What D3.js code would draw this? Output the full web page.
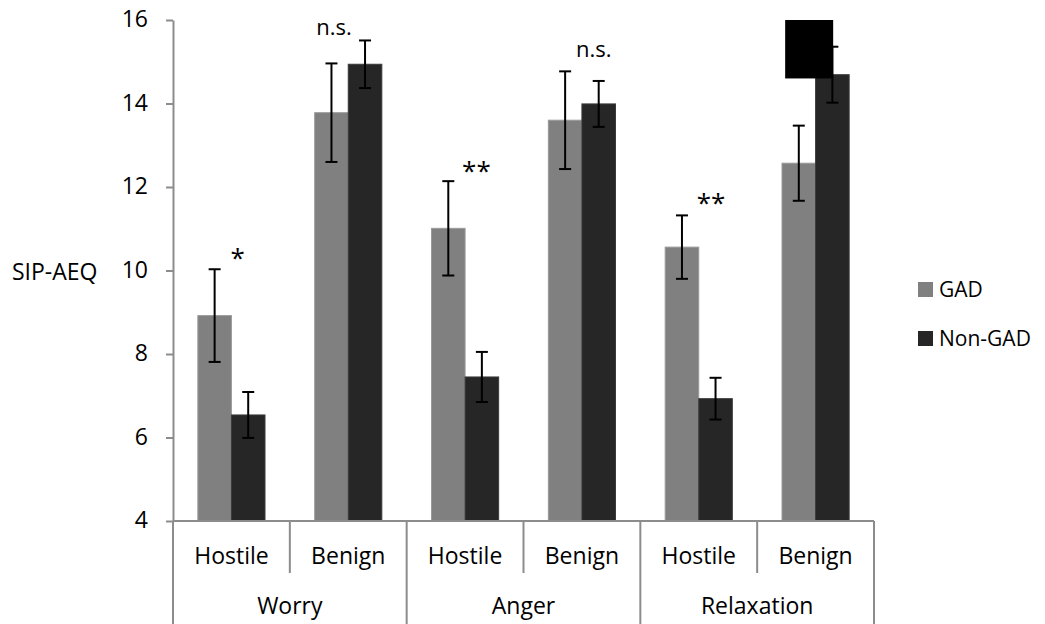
<!DOCTYPE html>
<html>
<head>
<meta charset="utf-8">
<script src="https://cdn.jsdelivr.net/npm/d3@7"></script>
<style>
    body { margin: 0; background: #fff; }
    text { font-family: 'Open Sans', sans-serif; fill: #000; }
</style>
</head>
<body>
<svg id="chart"></svg>
<script>
const groups = ['Worry', 'Anger', 'Relaxation']
const conditions = ['Hostile', 'Benign']
const series = ['GAD', 'Non-GAD']

// one value per group x condition, in order
const gadMeans = [8.92, 13.78, 11.01, 13.6, 10.56, 12.57]
const gadErr = [1.11, 1.18, 1.13, 1.17, 0.76, 0.9]
const nonGadMeans = [6.54, 14.94, 7.45, 13.99, 6.93, 14.69]
const nonGadErr = [0.55, 0.57, 0.6, 0.55, 0.5, 0.67]

const yTicks = [4, 6, 8, 10, 12, 14, 16]

// significance marks: cell index, label, level (in SIP-AEQ units)
const marks = [
    { cell: 0, label: '*', level: 10.09 },
    { cell: 1, label: 'n.s.', level: 15.64 },
    { cell: 2, label: '**', level: 12.16 },
    { cell: 3, label: 'n.s.', level: 15.12 },
    { cell: 4, label: '**', level: 11.39 }
]

const width = 1045
const height = 624
const plotLeft = 173, plotRight = 874, plotTop = 20, plotBottom = 521
const colors = { 'GAD': '#808080', 'Non-GAD': '#262626' }
const axisColor = '#8c8c8c'
const fontSize = 23

const cells = []
groups.forEach(g => conditions.forEach(c => cells.push(g + '|' + c)))

const rows = cells.map((id, i) => ({
    id,
    values: [
        { s: 'GAD', v: gadMeans[i], e: gadErr[i] },
        { s: 'Non-GAD', v: nonGadMeans[i], e: nonGadErr[i] }
    ]
}))

const svg = d3.select('#chart').attr('width', width).attr('height', height)

const x = d3.scaleBand().domain(cells).range([plotLeft, plotRight])
const xs = d3.scaleBand().domain(series).range([0, x.bandwidth()]).paddingOuter(0.74)
const y = d3.scaleLinear().domain([4, 16]).range([plotBottom, plotTop])

// y axis
const yAxis = svg.append('g')
    .attr('transform', `translate(${plotLeft},0)`)
    .call(d3.axisLeft(y).tickValues(yTicks).tickSize(7).tickSizeOuter(0).tickPadding(18))
yAxis.select('.domain').attr('stroke', axisColor).attr('stroke-width', 2)
yAxis.selectAll('.tick line').attr('stroke', axisColor).attr('stroke-width', 2)
yAxis.selectAll('.tick text')
    .attr('font-size', fontSize)
    .attr('font-family', "'Open Sans', sans-serif")
    .attr('fill', '#000')
    .attr('dy', '0.3em')

// bars
const cell = svg.append('g').selectAll('g')
    .data(rows)
    .enter().append('g')
    .attr('transform', d => `translate(${x(d.id)},0)`)

cell.selectAll('rect')
    .data(d => d.values)
    .enter().append('rect')
    .attr('x', d => xs(d.s))
    .attr('width', xs.bandwidth())
    .attr('y', d => y(d.v))
    .attr('height', d => y(4) - y(d.v))
    .attr('fill', d => colors[d.s])
    .attr('stroke', d => d.s === 'GAD' ? '#9a9a9a' : '#3a3a3a')
    .attr('stroke-width', 1)

// error bars
const err = cell.selectAll('g.err')
    .data(d => d.values)
    .enter().append('g')
    .attr('class', 'err')
    .attr('transform', d => `translate(${xs(d.s) + xs.bandwidth() / 2},0)`)

err.append('line')
    .attr('y1', d => y(d.v + d.e))
    .attr('y2', d => y(d.v - d.e))
    .attr('stroke', '#000').attr('stroke-width', 2)
err.selectAll('line.cap')
    .data(d => [d.v + d.e, d.v - d.e])
    .enter().append('line')
    .attr('class', 'cap')
    .attr('x1', -6).attr('x2', 6)
    .attr('y1', d => y(d)).attr('y2', d => y(d))
    .attr('stroke', '#000').attr('stroke-width', 2)

// x axis line and category boxes
svg.append('line')
    .attr('x1', plotLeft).attr('x2', plotRight)
    .attr('y1', plotBottom).attr('y2', plotBottom)
    .attr('stroke', axisColor).attr('stroke-width', 2)

const subDividers = cells.filter((d, i) => i % 2 === 0)
svg.append('g').selectAll('line')
    .data(subDividers)
    .enter().append('line')
    .attr('x1', d => x(d) + x.bandwidth()).attr('x2', d => x(d) + x.bandwidth())
    .attr('y1', plotBottom).attr('y2', 573)
    .attr('stroke', axisColor).attr('stroke-width', 2)

const groupEdges = [0, 2, 4, 6]
svg.append('g').selectAll('line')
    .data(groupEdges)
    .enter().append('line')
    .attr('x1', d => plotLeft + d * x.step()).attr('x2', d => plotLeft + d * x.step())
    .attr('y1', plotBottom).attr('y2', height)
    .attr('stroke', axisColor).attr('stroke-width', 2)

svg.append('g').selectAll('text')
    .data(cells)
    .enter().append('text')
    .attr('x', d => x(d) + x.bandwidth() / 2)
    .attr('y', 564)
    .attr('text-anchor', 'middle')
    .attr('font-size', fontSize)
    .text(d => d.split('|')[1])

svg.append('g').selectAll('text')
    .data(groups)
    .enter().append('text')
    .attr('x', (d, i) => plotLeft + (i * 2 + 1) * x.step())
    .attr('y', 614)
    .attr('text-anchor', 'middle')
    .attr('font-size', fontSize)
    .text(d => d)

// significance marks
const markDx = [-1, -32, -3, -6, -2]
svg.append('g').selectAll('text')
    .data(marks)
    .enter().append('text')
    .attr('x', (d, i) => x(cells[d.cell]) + xs('Non-GAD') + markDx[i])
    .attr('y', d => y(d.level))
    .attr('font-size', d => d.label.startsWith('*') ? 26 : 22)
    .text(d => d.label)

// black box over the last cell's mark
svg.append('rect')
    .attr('x', x(cells[5]) + 28)
    .attr('y', y(16))
    .attr('width', 48)
    .attr('height', y(14.6) - y(16))
    .attr('fill', '#000')

// y label
svg.append('text')
    .attr('x', 12)
    .attr('y', 280)
    .attr('font-size', fontSize)
    .text('SIP-AEQ')

// legend
const legend = svg.append('g').selectAll('g')
    .data(series)
    .enter().append('g')
    .attr('transform', (d, i) => `translate(918,${282 + i * 49})`)
legend.append('rect')
    .attr('width', 15).attr('height', 15)
    .attr('fill', d => colors[d])
legend.append('text')
    .attr('x', 21).attr('y', 15)
    .attr('font-size', 21)
    .text(d => d)
</script>
</body>
</html>
